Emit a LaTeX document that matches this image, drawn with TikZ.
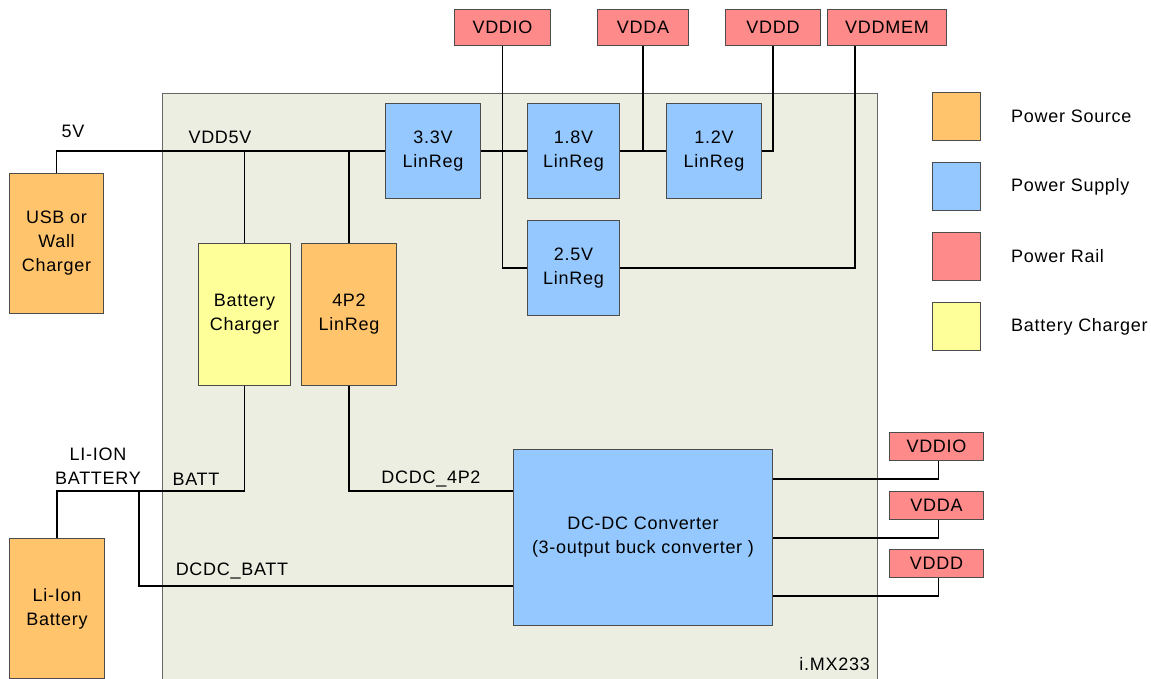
\documentclass[tikz,border=0pt]{standalone}
\usepackage{fontspec}
\setmainfont{Liberation Sans}[LetterSpace=4]
\usetikzlibrary{positioning}
\definecolor{narancs}{HTML}{FFC46C}
\definecolor{kek}{HTML}{94C8FF}
\definecolor{piros}{HTML}{FF8A8A}
\definecolor{sarga}{HTML}{FFFF99}
\definecolor{lap}{HTML}{EDEEE2}
\tikzset{
  doboz/.style={draw=black!70,line width=1pt,anchor=north west,inner sep=0pt,align=center},
  meret/.style 2 args={minimum width=#1pt,minimum height=#2pt},
  forras/.style={doboz,fill=narancs},
  tap/.style={doboz,fill=kek},
  sin/.style={doboz,fill=piros},
  tolto/.style={doboz,fill=sarga},
  vez/.style={line width=1.5pt},
  cimke/.style={inner sep=0pt,align=center},
}

\begin{document}
\begin{tikzpicture}[x=1pt,y=-1pt,font=\fontsize{18}{24}\selectfont]
  \useasboundingbox (0,0) rectangle (1151,678);
  % chip
  \node[doboz,fill=lap,draw=black!60,meret={715}{586}] (chip) at (162,93) {};
  \node[cimke,anchor=east] (nev) at (870,664) {i.MX233};
  % forrasok
  \node[forras,meret={94}{140}] (usb) at (9,173) {USB or\\Wall\\Charger};
  \node[forras,meret={95}{140}] (li) at (9,538) {Li-Ion\\Battery};
  \node[tolto,meret={92}{142}] (bc) at (198,243) {Battery\\Charger};
  \node[forras,meret={95}{142}] (r42) at (301,243) {4P2\\LinReg};
  % linregek
  \node[tap,meret={95}{95}] (r33) at (385,103) {3.3V\\LinReg};
  \node[tap,meret={92}{95}] (r18) at (527,103) {1.8V\\LinReg};
  \node[tap,meret={95}{95}] (r12) at (666,103) {1.2V\\LinReg};
  \node[tap,meret={92}{95}] (r25) at (527,220) {2.5V\\LinReg};
  \node[tap,meret={259}{176}] (dcdc) at (513,449) {DC-DC Converter\\(3-output buck converter )};
  % sinek
  \node[sin,meret={96}{36}] (vio) at (454,9) {VDDIO};
  \node[sin,meret={91}{36}] (va) at (597,9) {VDDA};
  \node[sin,meret={95}{36}] (vd) at (725,9) {VDDD};
  \node[sin,meret={119}{36}] (vmem) at (827,9) {VDDMEM};
  \node[sin,meret={94}{28}] (vio2) at (889,432) {VDDIO};
  \node[sin,meret={94}{28}] (va2) at (889,491) {VDDA};
  \node[sin,meret={94}{28}] (vd2) at (889,549) {VDDD};
  % vezetekek
  \draw[vez] (usb.north) |- (r33.west);
  \draw[vez] (bc.north) -- (bc.north |- r33.west);
  \draw[vez] (r42.north) -- (r42.north |- r33.west);
  \draw[vez] (r33.east) -- (r18.west);
  \draw[vez] (r18.east) -- (r12.west);
  \draw[vez] (vio.south) |- (r25.west);
  \draw[vez] (va.south) -- (va.south |- r18.east);
  \draw[vez] (vd.south) |- (r12.east);
  \draw[vez] ([xshift=28pt]vmem.south west) |- (r25.east);
  \coordinate (bat) at (0,491);
  \coordinate (elag) at (139,491);
  \draw[vez] (li.north) |- (bc.south |- bat) -- (bc.south);
  \draw[vez] (r42.south) |- (dcdc.west |- bat);
  \draw[vez] (elag) |- ([yshift=40pt]dcdc.south west);
  \draw[vez] ([yshift=-30pt]dcdc.north east) -| ([xshift=2pt]vio2.south);
  \draw[vez] ([yshift=-89pt]dcdc.north east) -| ([xshift=2pt]va2.south);
  \draw[vez] ([yshift=-147pt]dcdc.north east) -| ([xshift=2pt]vd2.south);
  % cimkek
  \node[cimke] (c5v) at (73,131) {5V};
  \node[cimke] (cvdd) at (220,137) {VDD5V};
  \node[cimke] (cli) at (98,466) {LI-ION\\BATTERY};
  \node[cimke] (cbatt) at (196,479) {BATT};
  \node[cimke] (c4p2) at (431,479) {DCDC\_4P2};
  \node[cimke] (cdb) at (232,571) {DCDC\_BATT};
  % jelmagyarazat
  \foreach \y/\s/\t in {92/forras/Power Source,162/tap/Power Supply,232/sin/Power Rail,302/tolto/Battery Charger}{
    \node[\s,meret={48}{48}] (j\y) at (932,\y) {};
    \node[cimke,anchor=west,right=30pt of j\y] {\t};
  }
\end{tikzpicture}
\end{document}
